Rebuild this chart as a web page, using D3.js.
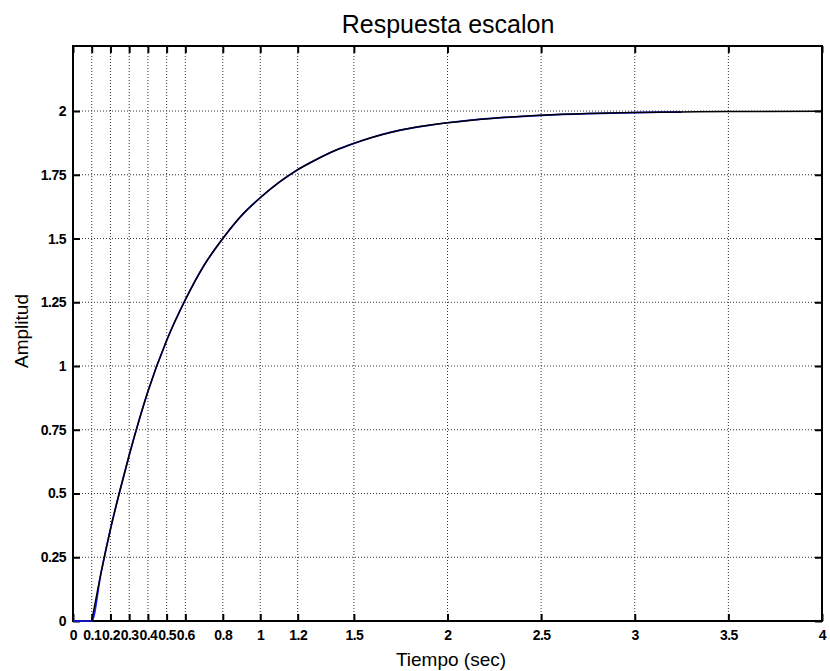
<!DOCTYPE html>
<html>
<head>
<meta charset="utf-8">
<script src="https://cdn.jsdelivr.net/npm/d3@7"></script>
<style>
  body { margin: 0; background: #fff; }
  svg { font-family: "Liberation Sans", Arial, sans-serif; }
</style>
</head>
<body>
<div id="chart"></div>
<script>
// datos
const tiempo   = [0, 0.05, 0.1, 0.15, 0.2, 0.25, 0.3, 0.35, 0.4, 0.5, 0.6, 0.7, 0.8, 0.9, 1.0, 1.1, 1.2, 1.3, 1.4, 1.5, 1.6, 1.7, 1.8, 1.9, 2.0, 2.25, 2.5, 2.75, 3.0, 3.25, 3.5, 4.0];
const amplitud = [0, 0, 0, 0.19, 0.36, 0.51, 0.65, 0.78, 0.90, 1.10, 1.26, 1.395, 1.50, 1.59, 1.66, 1.72, 1.77, 1.81, 1.845, 1.873, 1.897, 1.917, 1.932, 1.944, 1.954, 1.972, 1.983, 1.99, 1.994, 1.996, 1.998, 1.999];
// serie azul (termina antes)
const tiempoAzul   = tiempo.filter(t => t <= 3.25);
const amplitudAzul = amplitud.slice(0, tiempoAzul.length);

const xTicks = [0, 0.1, 0.2, 0.3, 0.4, 0.5, 0.6, 0.8, 1, 1.2, 1.5, 2, 2.5, 3, 3.5, 4];
const yTicks = [0, 0.25, 0.5, 0.75, 1, 1.25, 1.5, 1.75, 2];

const width = 830, height = 671;
const margin = { top: 46, right: 8, bottom: 50, left: 73 };

const svg = d3.select("#chart").append("svg")
  .attr("width", width)
  .attr("height", height);

const x = d3.scaleLinear().domain([0, 4]).range([margin.left, width - margin.right]);
const y = d3.scaleLinear().domain([0, 2.255]).range([height - margin.bottom, margin.top]);

// rejilla punteada
svg.append("g")
  .selectAll("line")
  .data(xTicks.slice(1, -1))
  .join("line")
  .attr("x1", d => x(d)).attr("x2", d => x(d))
  .attr("y1", y(0)).attr("y2", margin.top)
  .attr("stroke", "#333").attr("stroke-width", 1)
  .attr("stroke-dasharray", "1,2");

svg.append("g")
  .selectAll("line")
  .data(yTicks.slice(1))
  .join("line")
  .attr("x1", x(0)).attr("x2", x(4))
  .attr("y1", d => y(d)).attr("y2", d => y(d))
  .attr("stroke", "#333").attr("stroke-width", 1)
  .attr("stroke-dasharray", "1,2");

// ejes
const xAxis = svg.append("g")
  .attr("transform", `translate(0,${y(0)})`)
  .call(d3.axisBottom(x).tickValues(xTicks).tickSize(-7).tickPadding(9).tickFormat(d3.format("")));
const xAxisTop = svg.append("g")
  .attr("transform", `translate(0,${margin.top})`)
  .call(d3.axisTop(x).tickValues(xTicks).tickSize(-7).tickFormat(""));
const yAxis = svg.append("g")
  .attr("transform", `translate(${x(0)},0)`)
  .call(d3.axisLeft(y).tickValues(yTicks).tickSize(-7).tickPadding(7).tickFormat(d3.format("")));
const yAxisRight = svg.append("g")
  .attr("transform", `translate(${x(4)},0)`)
  .call(d3.axisRight(y).tickValues(yTicks).tickSize(-7).tickFormat(""));

[xAxis, xAxisTop, yAxis, yAxisRight].forEach(g => {
  g.select(".domain").remove();
  g.selectAll(".tick line").attr("stroke", "#000").attr("stroke-width", 2);
  g.selectAll("text")
    .attr("fill", "#000")
    .style("font-size", "14px")
    .style("font-weight", "bold")
    .style("letter-spacing", "-0.5px")
    .style("font-family", "'Liberation Sans', Arial, sans-serif");
});

// marco
svg.append("rect")
  .attr("x", x(0)).attr("y", margin.top)
  .attr("width", x(4) - x(0)).attr("height", y(0) - margin.top)
  .attr("fill", "none").attr("stroke", "#000").attr("stroke-width", 2);

// curvas
const line = d3.line()
  .x(d => x(d[0]))
  .y(d => y(d[1]))
  .curve(d3.curveMonotoneX);

svg.append("path")
  .datum(d3.zip(tiempoAzul, amplitudAzul))
  .attr("d", line)
  .attr("fill", "none").attr("stroke", "#1a1aff").attr("stroke-width", 1.7);

svg.append("path")
  .datum(d3.zip(tiempo, amplitud).filter(d => d[0] >= 0.1))
  .attr("d", line)
  .attr("fill", "none").attr("stroke", "#000").attr("stroke-width", 1.5);

// textos
svg.append("text")
  .attr("x", 448).attr("y", 33)
  .attr("text-anchor", "middle")
  .style("font-size", "25px")
  .text("Respuesta escalon");

svg.append("text")
  .attr("x", 451).attr("y", 666)
  .attr("text-anchor", "middle")
  .style("font-size", "19px")
  .text("Tiempo (sec)");

svg.append("text")
  .attr("transform", `translate(28,331) rotate(-90)`)
  .attr("text-anchor", "middle")
  .style("font-size", "19px")
  .text("Amplitud");
</script>
</body>
</html>
